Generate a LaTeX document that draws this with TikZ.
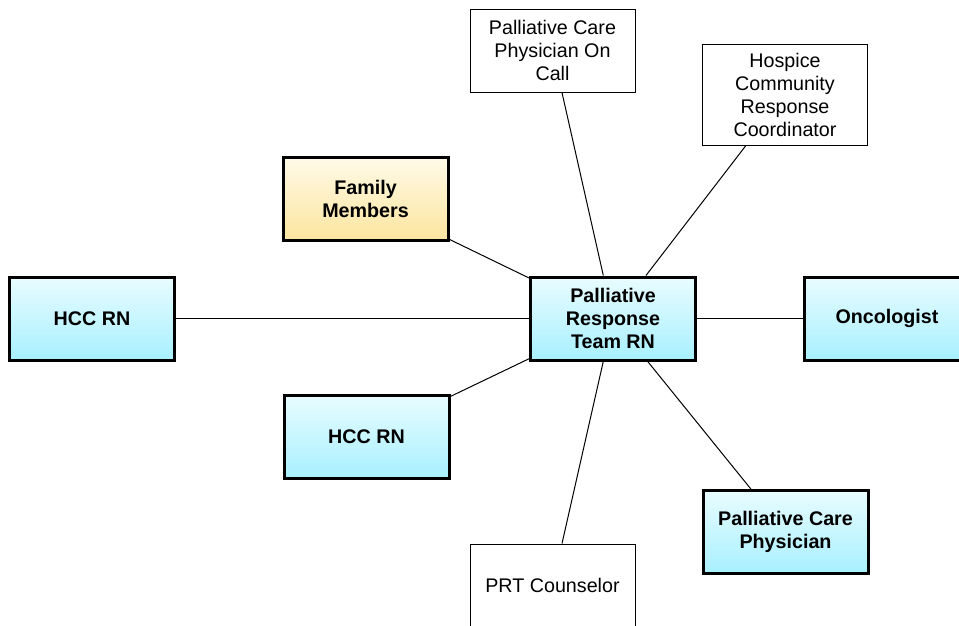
\documentclass[tikz,border=0pt]{standalone}
\usepackage{fontspec}
\setmainfont{Liberation Sans}
\definecolor{cyantop}{HTML}{E8FCFF}
\definecolor{cyanbot}{HTML}{A8F0FF}
\definecolor{sandtop}{HTML}{FFFAE8}
\definecolor{sandbot}{HTML}{FCE59E}
\tikzset{
    plainbox/.style={draw, line width=1pt, fill=white, align=center,
        minimum width=165pt, minimum height=83pt, inner sep=0pt,
        font=\fontsize{19.7}{23}\selectfont},
    rolebox/.style={plainbox, line width=3pt, top color=cyantop, bottom color=cyanbot,
        font=\fontsize{19.7}{23}\selectfont\bfseries},
    kinbox/.style={rolebox, top color=sandtop, bottom color=sandbot}
}
\begin{document}
\begin{tikzpicture}[x=1pt,y=-1pt]
            \useasboundingbox (0,0) rectangle (959,625);

            \node[rolebox] (prt) at (613,318.5) {Palliative\\Response\\Team RN};

            \node[plainbox] (oncall) at (552.5,50.5) {Palliative Care\\Physician On\\Call};
            \node[plainbox, minimum height=101pt] (hospice) at (785,94.5) {Hospice\\Community\\Response\\Coordinator};
            \node[kinbox] (family) at (365.5,199) {Family\\Members};
            \node[rolebox] (hccleft) at (92,318.5) {HCC RN};
            \node[rolebox] (onc) at (887,318.5) {Oncologist};
            \node[rolebox] (hccright) at (366.5,436.5) {HCC RN};
            \node[rolebox] (pcp) at (785.5,532) {Palliative Care\\Physician};
            \node[plainbox] (counsel) at (552.5,585.5) {PRT Counselor};

            \foreach \n in {oncall,hospice,family,hccleft,onc,hccright,pcp,counsel}{
                \draw[line width=1pt] (prt) -- (\n);
            }
        \end{tikzpicture}
\end{document}
